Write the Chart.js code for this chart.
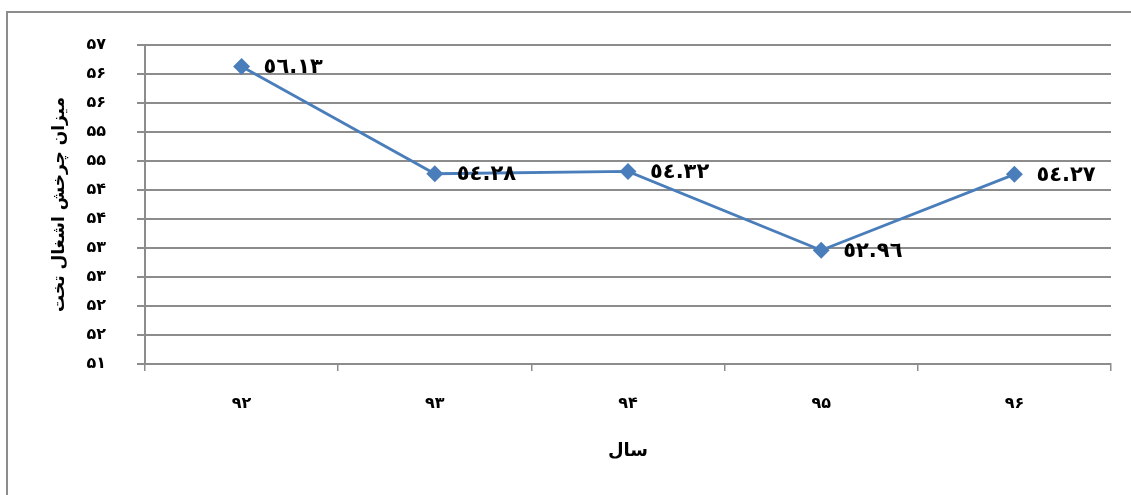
<!DOCTYPE html>
<html>
<head>
<meta charset="utf-8">
<script src="https://cdn.jsdelivr.net/npm/chart.js@4.4.0/dist/chart.umd.min.js"></script>
<style>
  html, body { margin: 0; padding: 0; background: #fff; overflow: hidden; }
  #wrap { width: 1131px; height: 495px; position: relative; }
</style>
</head>
<body>
<div id="wrap"><canvas id="chart"></canvas></div>
<script>
// years (Persian digits)
const years = ["۹۲", "۹۳", "۹۴", "۹۵", "۹۶"];
// bed turnover rate
const turnover = [56.13, 54.28, 54.32, 52.96, 54.27];
// labels shown next to points
const pointLabels = ["٥٦.١٣", "٥٤.٢٨", "٥٤.٣٢", "٥٢.٩٦", "٥٤.٢٧"];

const yMin = 51;
const yMax = 56.5;
const yStep = 0.5;

const persianDigits = ["۰", "۱", "۲", "۳", "۴", "۵", "۶", "۷", "۸", "۹"];
function toPersian(n) {
  return String(n).replace(/[0-9]/g, d => persianDigits[+d]);
}

const lineColor = "#4A7EBB";
const gridColor = "#8C8C8C";
const fontFamily = "'DejaVu Sans', sans-serif";

// outer frame like the office chart box
const framePlugin = {
  id: "frame",
  beforeDraw(chart) {
    const c = chart.ctx;
    c.save();
    c.strokeStyle = "#8C8C8C";
    c.lineWidth = 2;
    c.strokeRect(7, 12, 1300, 600);
    c.restore();
  }
};

// value labels to the right of each point
const labelPlugin = {
  id: "valueLabels",
  afterDatasetsDraw(chart) {
    const c = chart.ctx;
    const meta = chart.getDatasetMeta(0);
    c.save();
    c.font = "bold 21px " + fontFamily;
    c.fillStyle = "#000";
    c.textAlign = "left";
    c.textBaseline = "middle";
    meta.data.forEach((pt, i) => {
      c.fillText(pointLabels[i], pt.x + 22, pt.y + 1);
    });
    c.restore();
  }
};

new Chart(document.getElementById("chart"), {
  type: "line",
  data: {
    labels: years,
    datasets: [{
      data: turnover,
      borderColor: lineColor,
      backgroundColor: lineColor,
      borderWidth: 2.8,
      pointStyle: "rectRot",
      pointRadius: 6.5,
      pointBackgroundColor: lineColor,
      pointBorderColor: lineColor,
      tension: 0
    }]
  },
  options: {
    responsive: true,
    maintainAspectRatio: false,
    animation: false,
    events: [],
    layout: { padding: { top: 45, right: 20, left: 0, bottom: 0 } },
    plugins: {
      legend: { display: false },
      tooltip: { enabled: false },
      title: { display: false }
    },
    scales: {
      x: {
        offset: true,
        afterFit(scale) { scale.height = 131; },
        grid: {
          offset: true,
          drawOnChartArea: false,
          drawTicks: true,
          tickLength: 7,
          color: gridColor,
          lineWidth: 1.5
        },
        border: { color: gridColor, width: 2 },
        ticks: {
          color: "#000",
          padding: 23,
          font: { family: fontFamily, size: 16, weight: "bold" }
        },
        title: {
          display: true,
          text: "سال",
          color: "#000",
          padding: { top: 0, bottom: 33 },
          font: { family: fontFamily, size: 18, weight: "bold" }
        }
      },
      y: {
        min: yMin,
        max: yMax,
        afterFit(scale) { scale.width = 145; },
        grid: {
          color: gridColor,
          lineWidth: 2,
          drawTicks: true,
          tickLength: 8
        },
        border: { color: gridColor, width: 2 },
        ticks: {
          stepSize: yStep,
          color: "#000",
          padding: 31,
          font: { family: fontFamily, size: 16, weight: "bold" },
          callback: v => toPersian(Math.round(v))
        },
        title: {
          display: true,
          text: "میزان چرخش اشغال تخت",
          color: "#000",
          padding: { top: 49, bottom: 0 },
          font: { family: fontFamily, size: 17, weight: "bold" }
        }
      }
    }
  },
  plugins: [framePlugin, labelPlugin]
});
</script>
</body>
</html>
